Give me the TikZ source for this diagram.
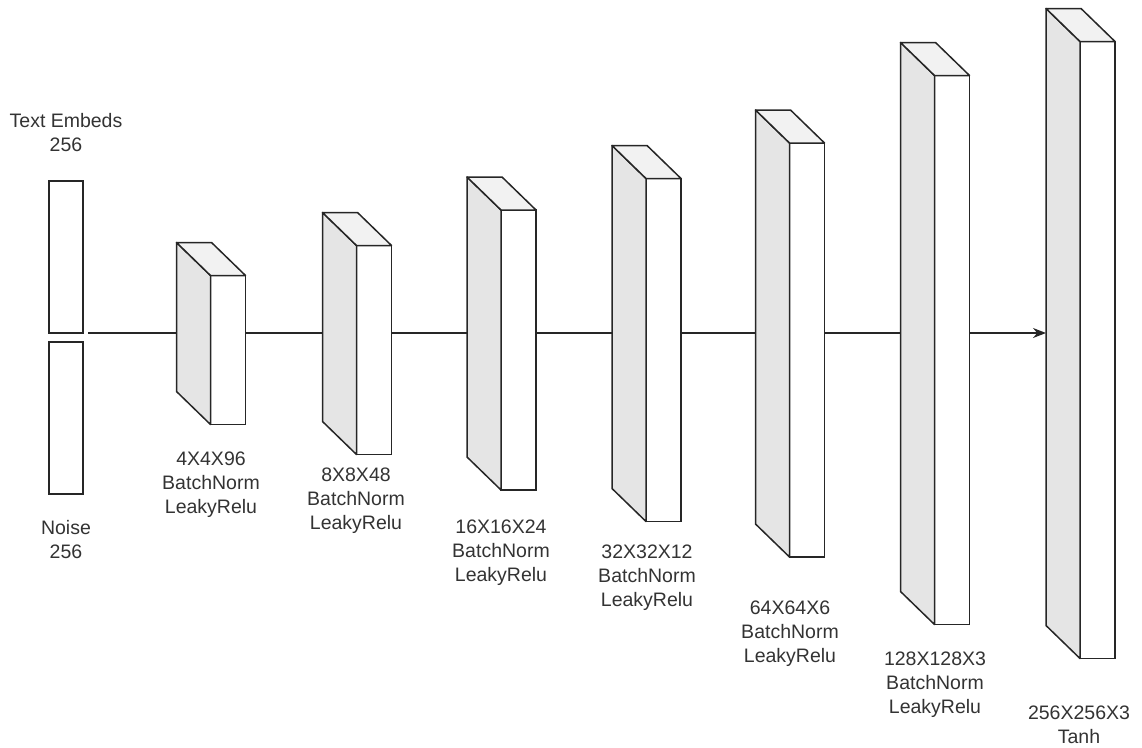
\documentclass[tikz,border=0pt]{standalone}
\usepackage{fontspec}
\setmainfont{Liberation Sans}
\usetikzlibrary{arrows.meta,calc}

\begin{document}
\begin{tikzpicture}[x=1pt, y=-1pt, >={Stealth[length=13pt,width=10pt]}]
			\tikzset{
				vecbox/.style={rectangle, minimum width=34pt, inner sep=0pt, outer sep=0pt, draw=black!85, line width=1.5pt, fill=white},
				layer/.style={rectangle, minimum width=35pt, inner sep=0pt, outer sep=0pt, draw=black!85, line width=1.5pt, fill=white},
				sideface/.style={draw=black!85, line width=1.5pt, fill=black!10, line join=round},
				topface/.style={draw=black!85, line width=1.5pt, fill=black!5, line join=round},
				caption/.style={align=center, anchor=north, inner sep=0pt, text=black!80, font=\fontsize{19.5}{24}\selectfont},
				link/.style={draw=black!85, line width=1.5pt},
			}
			\useasboundingbox (0,0) rectangle (1142,747);
			%Input vectors
			\node[vecbox, minimum height=152pt](embed) at (66,257) {};
			\node[vecbox, minimum height=152pt](noise) at (66,418) {};
			\node[caption](embedlbl) at (66,113) {Text Embeds\\256};
			\node[caption](noiselbl) at (66,520) {Noise\\256};
			%Layers (front faces)
			\node[layer, minimum height=149pt](l1) at (228,350) {};
			\node[layer, minimum height=209pt](l2) at (374,350) {};
			\node[layer, minimum height=280pt](l3) at (518.5,350) {};
			\node[layer, minimum height=343pt](l4) at (663.5,350) {};
			\node[layer, minimum height=414pt](l5) at (807,350) {};
			\node[layer, minimum height=549pt](l6) at (952,350) {};
			\node[layer, minimum height=617pt](l7) at (1097.5,350) {};
			%Depth faces
			\foreach \l in {l1,l2,l3,l4,l5,l6,l7} {
				\draw[sideface] (\l.north west) -- ++(-34,-33) -- ($(\l.south west)+(-34,-33)$) -- (\l.south west) -- cycle;
				\draw[topface] (\l.north west) -- ++(-34,-33) -- ($(\l.north east)+(-34,-33)$) -- (\l.north east) -- cycle;
			}
			%Layer captions
			\node[caption](l1lbl) at (211,452) {4X4X96\\BatchNorm\\LeakyRelu};
			\node[caption](l2lbl) at (356,468) {8X8X48\\BatchNorm\\LeakyRelu};
			\node[caption](l3lbl) at (501,520) {16X16X24\\BatchNorm\\LeakyRelu};
			\node[caption](l4lbl) at (647,545) {32X32X12\\BatchNorm\\LeakyRelu};
			\node[caption](l5lbl) at (790,601) {64X64X6\\BatchNorm\\LeakyRelu};
			\node[caption](l6lbl) at (935,652) {128X128X3\\BatchNorm\\LeakyRelu};
			\node[caption](l7lbl) at (1079,706) {256X256X3\\Tanh};
			%Draw connections
			\draw[link] ([xshift=5pt]embed.south east) -- ($(l1.west)+(-34,-17)$);
			\draw[link] ($(l1.east)+(0,-17)$) -- ($(l2.west)+(-34,-17)$);
			\draw[link] ($(l2.east)+(0,-17)$) -- ($(l3.west)+(-34,-17)$);
			\draw[link] ($(l3.east)+(0,-17)$) -- ($(l4.west)+(-34,-17)$);
			\draw[link] ($(l4.east)+(0,-17)$) -- ($(l5.west)+(-34,-17)$);
			\draw[link] ($(l5.east)+(0,-17)$) -- ($(l6.west)+(-34,-17)$);
			\draw[link, ->] ($(l6.east)+(0,-17)$) -- ($(l7.west)+(-34,-17)$);
		\end{tikzpicture}
\end{document}
